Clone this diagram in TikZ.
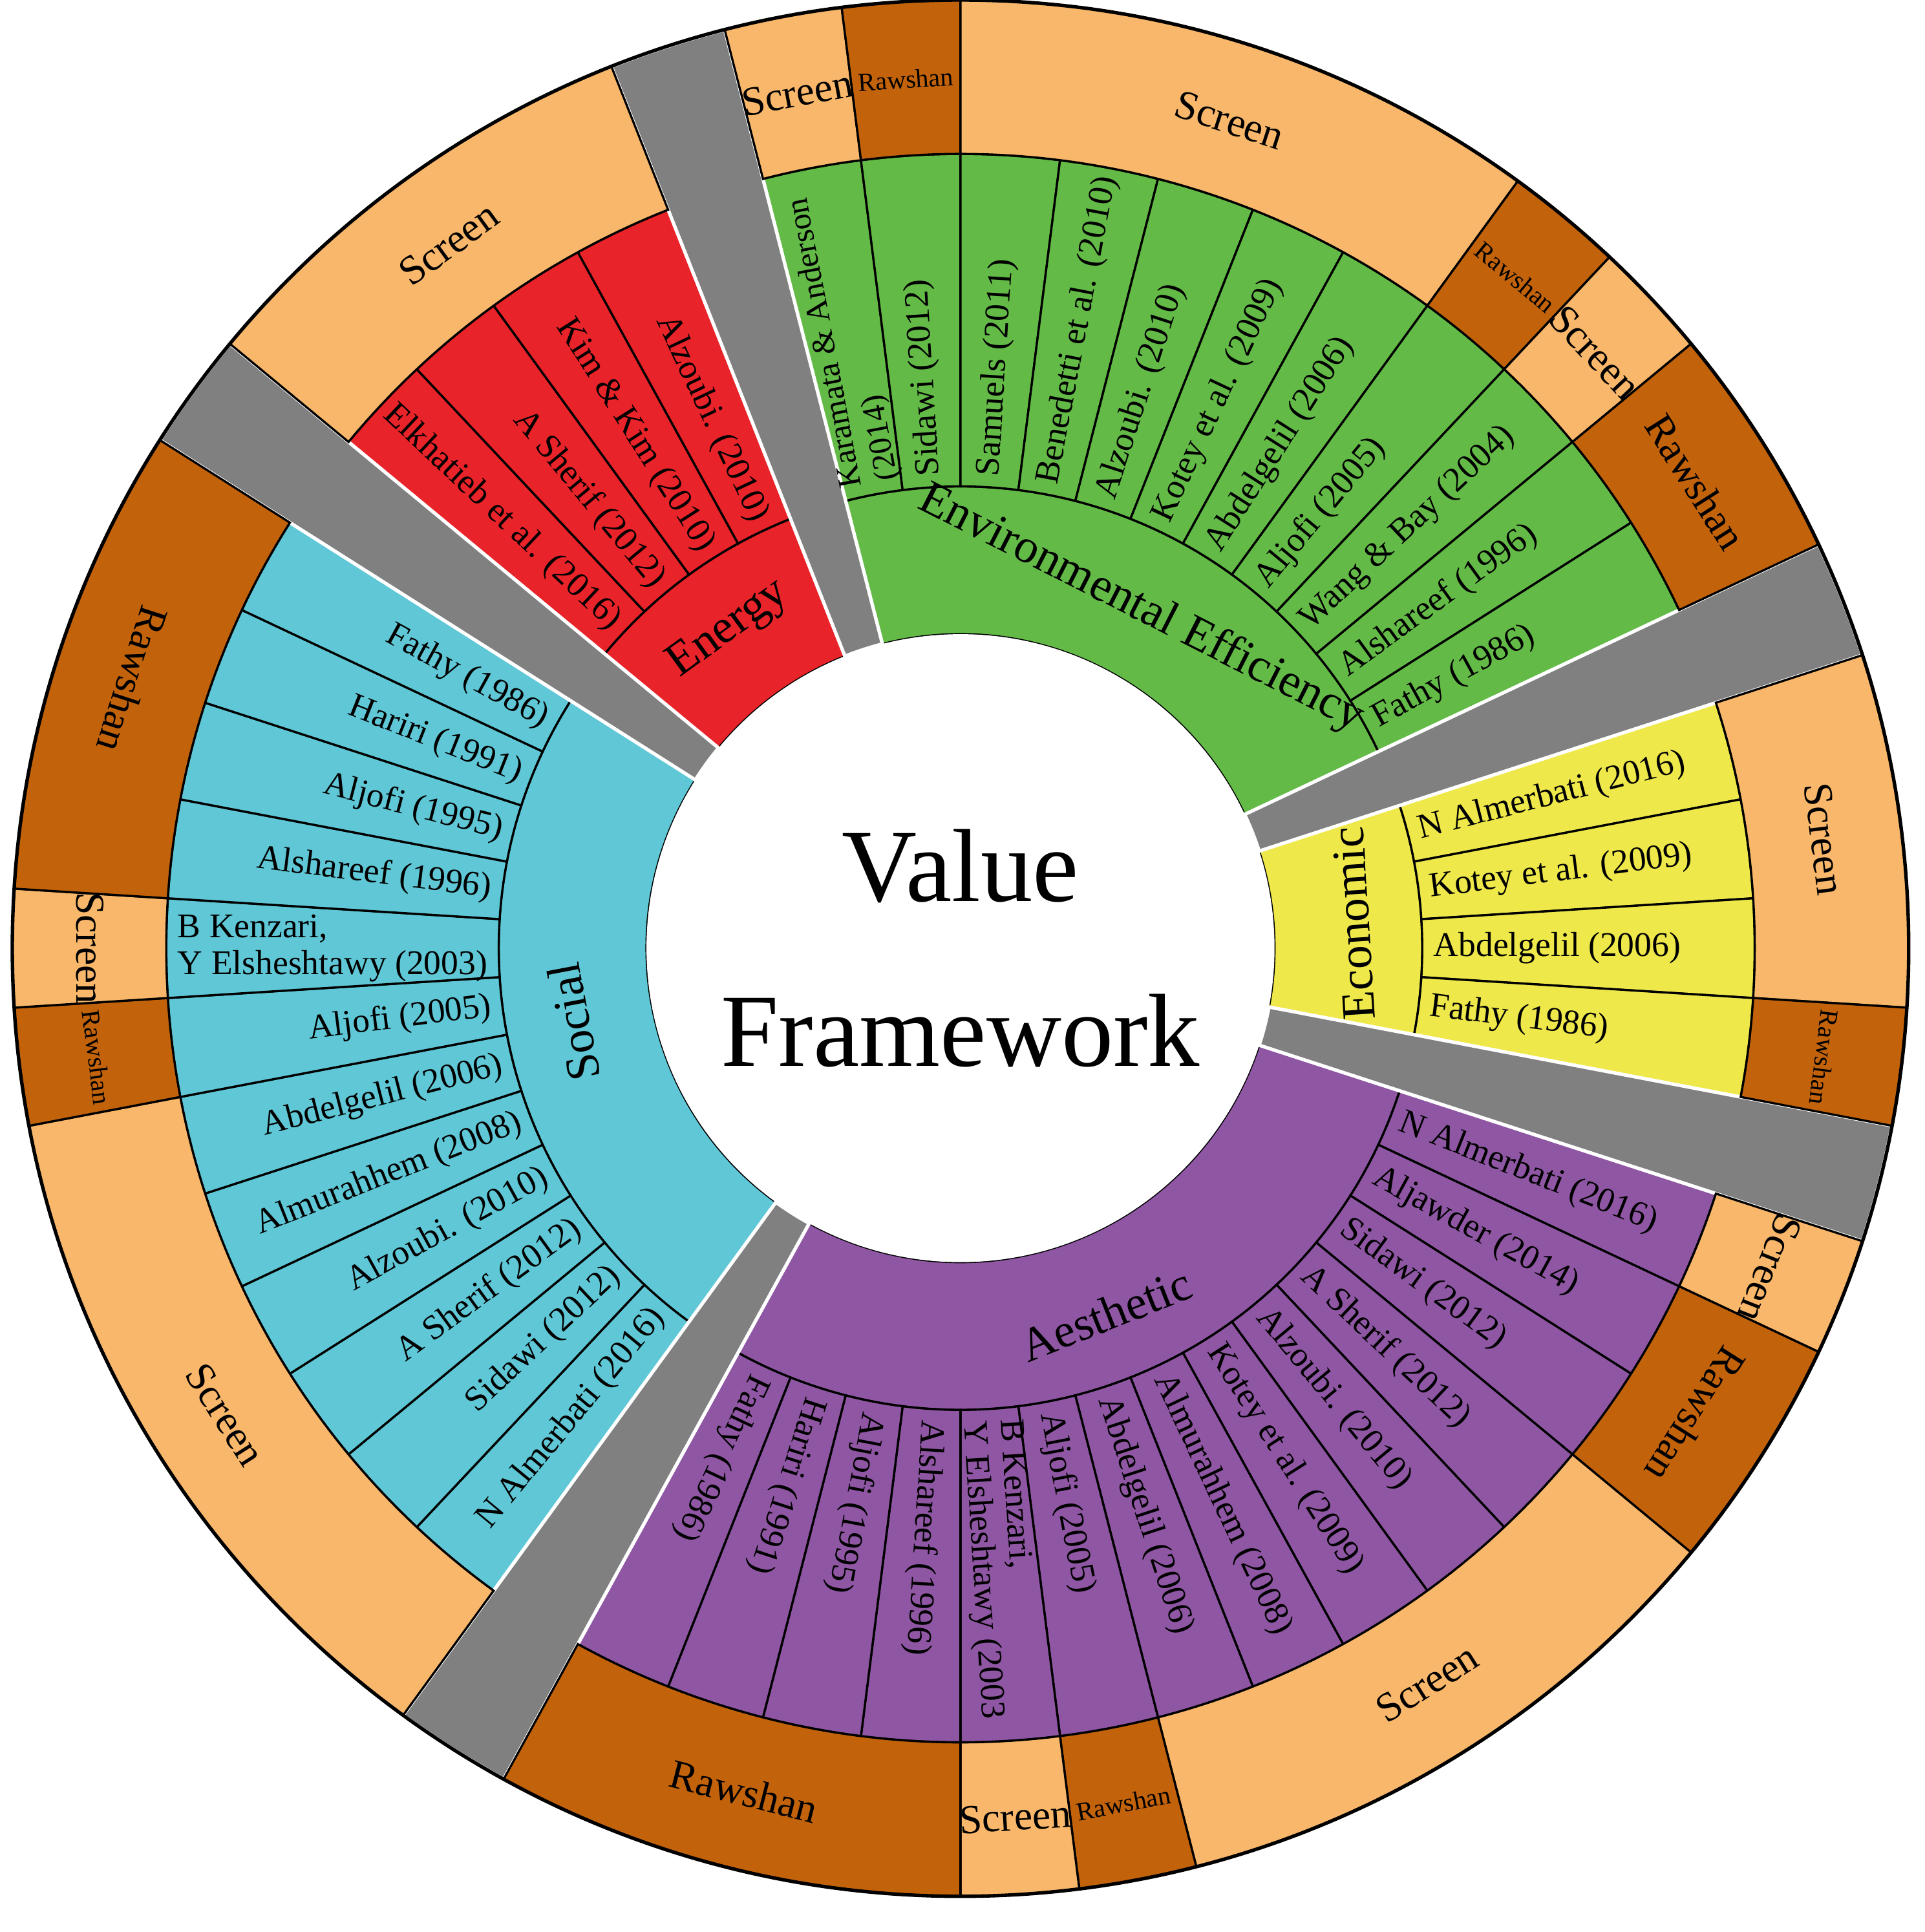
\documentclass[tikz,border=0pt]{standalone}
\usepackage{fontspec}
\setmainfont{Liberation Serif}
\definecolor{envgreen}{HTML}{63BA47}
\definecolor{enred}{HTML}{E82329}
\definecolor{soccyan}{HTML}{5FC7D6}
\definecolor{ecoyellow}{HTML}{EEE84A}
\definecolor{aespurple}{HTML}{8E56A3}
\definecolor{screenorange}{HTML}{F8B76A}
\definecolor{rawbrown}{HTML}{C2630C}
\definecolor{gapgray}{HTML}{808080}
\newcommand\ringcell[5]{\path[#5] (#3:#1) arc[start angle=#3,end angle=#4,radius=#1] -- (#4:#2) arc[start angle=#4,end angle=#3,radius=#2] -- cycle;}

\begin{document}
\begin{tikzpicture}[
cell/.style = {
	draw = black,
	line width = 0.5pt
},
gap/.style = {
	fill = gapgray,
	draw = white,
	line width = 0.8pt
},
leaf/.style = {
	font = \fontsize{8}{8.5}\selectfont,
	inner sep = 1pt,
	align = left
},
cat/.style = {
	font = \fontsize{11}{12}\selectfont
},
outer/.style = {
	font = \fontsize{9.5}{10}\selectfont
},
tiny/.style = {
	font = \fontsize{6}{7}\selectfont
}
]
\useasboundingbox (-7.8,-7.99) rectangle (7.83,7.7);

% category ring
\ringcell{2.55}{3.75}{104.4}{25.2}{cell, fill=envgreen}
\ringcell{2.55}{3.75}{18}{-10.8}{cell, fill=ecoyellow}
\ringcell{2.55}{3.75}{-18}{-118.8}{cell, fill=aespurple}
\ringcell{2.55}{3.75}{-126}{-212.4}{cell, fill=soccyan}
\ringcell{2.55}{3.75}{140.4}{111.6}{cell, fill=enred}

% reference ring
\foreach \i in {0,...,10} {\ringcell{3.75}{6.45}{104.4-7.2*\i}{97.2-7.2*\i}{cell, fill=envgreen}}
\foreach \i in {0,...,3} {\ringcell{3.75}{6.45}{18-7.2*\i}{10.8-7.2*\i}{cell, fill=ecoyellow}}
\foreach \i in {0,...,13} {\ringcell{3.75}{6.45}{-18-7.2*\i}{-25.2-7.2*\i}{cell, fill=aespurple}}
\foreach \i in {0,...,11} {\ringcell{3.75}{6.45}{-126-7.2*\i}{-133.2-7.2*\i}{cell, fill=soccyan}}
\foreach \i in {0,...,3} {\ringcell{3.75}{6.45}{140.4-7.2*\i}{133.2-7.2*\i}{cell, fill=enred}}

% gaps
\foreach \g in {111.6,25.2,-10.8,-118.8,147.6} {\ringcell{2.55}{7.7}{\g}{\g-7.2}{gap}}

% screen / rawshan ring
\foreach \a/\b/\c in {140.4/111.6/screenorange, 104.4/97.2/screenorange, 97.2/90/rawbrown,
	90/54/screenorange, 54/46.8/rawbrown, 46.8/39.6/screenorange, 39.6/25.2/rawbrown,
	18/-3.6/screenorange, -3.6/-10.8/rawbrown,
	-18/-25.2/screenorange, -25.2/-39.6/rawbrown, -39.6/-75.6/screenorange,
	-75.6/-82.8/rawbrown, -82.8/-90/screenorange, -90/-118.8/rawbrown,
	-126/-169.2/screenorange, -169.2/-176.4/rawbrown, -176.4/-183.6/screenorange,
	-183.6/-212.4/rawbrown}
	{\ringcell{6.45}{7.7}{\a}{\b}{cell, fill=\c}}
\draw[line width=0.8pt] (0,0) circle[radius=7.7];
\fill[white] (0,0) circle[radius=2.55];

% centre
\node (title) [font=\fontsize{24}{38}\selectfont, align=center] at (0,0) {Value\\Framework};

% categories
\node (env) [cat, rotate=-27] at (62:3.12) {Environmental Efficiency};
\node (eco) [cat, rotate=93.6] at (3.6:3.2) {Economic};
\node (aes) [cat, rotate=21.6] at (-68.4:3.2) {Aesthetic};
\node (soc) [cat, rotate=100.8] at (-169.2:3.2) {Social};
\node (ene) [cat, rotate=36] at (126:3.2) {Energy};

% references
\foreach \t [count=\i] in {{\fontsize{7.5}{8}\selectfont Karamata \& Anderson\\\fontsize{7.5}{8}\selectfont (2014)}, Sidawi (2012), Samuels (2011), Benedetti et al. (2010), Alzoubi. (2010), Kotey et al. (2009), Abdelgelil (2006), Aljofi (2005), Wang \& Bay (2004), Alshareef (1996), Fathy (1986)} {
	\pgfmathsetmacro\a{108-7.2*\i}
	\node (envref\i) [leaf, anchor=west, rotate=\a] at (\a:3.8) {\t};
}
\foreach \t [count=\i] in {N Almerbati (2016), Kotey et al. (2009), Abdelgelil (2006), Fathy (1986)} {
	\pgfmathsetmacro\a{21.6-7.2*\i}
	\node (ecoref\i) [leaf, anchor=west, rotate=\a] at (\a:3.8) {\t};
}
\foreach \t [count=\i] in {N Almerbati (2016), Aljawder (2014), Sidawi (2012), A Sherif (2012), Alzoubi. (2010), Kotey et al. (2009), Almurahhem (2008), Abdelgelil (2006), Aljofi (2005), {B Kenzari,\\Y Elsheshtawy (2003}, Alshareef (1996), Aljofi (1995), Hariri (1991), Fathy (1986)} {
	\pgfmathsetmacro\a{-14.4-7.2*\i}
	\node (aesref\i) [leaf, anchor=west, rotate=\a] at (\a:3.8) {\t};
}
\foreach \t [count=\i] in {N Almerbati (2016), Sidawi (2012), A Sherif (2012), Alzoubi. (2010), Almurahhem (2008), Abdelgelil (2006), Aljofi (2005), {B Kenzari,\\Y Elsheshtawy (2003)}, Alshareef (1996), Aljofi (1995), Hariri (1991), Fathy (1986)} {
	\pgfmathsetmacro\a{-122.4-7.2*\i}
	\node (socref\i) [leaf, anchor=east, rotate=\a+180] at (\a:3.8) {\t};
}
\foreach \t [count=\i] in {Elkhatieb et al. (2016), A Sherif (2012), Kim \& Kim (2010), Alzoubi. (2010)} {
	\pgfmathsetmacro\a{144-7.2*\i}
	\node (eneref\i) [leaf, anchor=east, rotate=\a+180] at (\a:3.8) {\t};
}

% screen / rawshan labels
\foreach \m/\r/\t/\s in {126/36/Screen/outer, 100.8/10.8/Screen/outer, 93.6/3.6/Rawshan/tiny,
	72/-18/Screen/outer, 50.4/-39.6/Rawshan/tiny, 43.2/-46.8/Screen/outer, 32.4/-57.6/Rawshan/outer,
	7.2/-82.8/Screen/outer, -7.2/-97.2/Rawshan/tiny,
	-21.6/-111.6/Screen/outer, -32.4/-122.4/Rawshan/outer, -57.6/32.4/Screen/outer,
	-79.2/10.8/Rawshan/tiny, -86.4/3.6/Screen/outer, -104.4/-14.4/Rawshan/outer,
	-147.6/-57.6/Screen/outer, -172.8/-82.8/Rawshan/tiny, -180/-90/Screen/outer, -198/-108/Rawshan/outer}
	\node (lab\m) [\s, rotate=\r] at (\m:7.07) {\t};
\end{tikzpicture}
\end{document}
